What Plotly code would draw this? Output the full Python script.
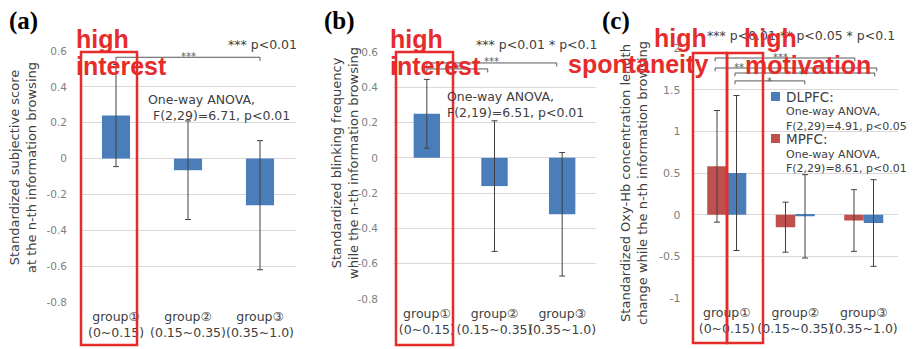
import plotly.graph_objects as go

# page body has an 8px default margin; the figure is sized so that it fills the 918x349 window
OX, OY = 8, 8
W, H = 918 - OX, 349 - OY

# ---------------- data ----------------
groups = ["group①", "group②", "group③"]
group_ranges = ["(0~0.15)", "(0.15~0.35)", "(0.35~1.0)"]

subjective_mean = [0.24, -0.065, -0.26]
subjective_err = [0.285, 0.275, 0.36]

blink_mean = [0.25, -0.16, -0.32]
blink_err = [0.195, 0.37, 0.35]

mpfc_mean = [0.58, -0.15, -0.07]
mpfc_err = [0.67, 0.30, 0.37]
dlpfc_mean = [0.50, -0.02, -0.10]
dlpfc_err = [0.93, 0.50, 0.52]

ab_tickvals = [0.6, 0.4, 0.2, 0, -0.2, -0.4, -0.6, -0.8]
ab_ticktext = ["0.6", "0.4", "0.2", "0", "-0.2", "-0.4", "-0.6", "-0.8"]
c_tickvals = [2, 1.5, 1, 0.5, 0, -0.5, -1]
c_ticktext = ["2", "1.5", "1", "0.5", "0", "-0.5", "-1"]

# ---------------- style ----------------
BLUE = "#4a7ebb"
RED_BAR = "#c0504d"
HL = "#e62b2b"
GRID = "#d9d9d9"
ERR = "#404040"
TXT = "#404040"
TICK = "#7f7f7f"
FONT = "DejaVu Sans, Noto Sans CJK JP"
HLFONT = "Liberation Sans, Arial"
SERIF = "Liberation Serif, Times New Roman"

xticktext = [f"{g}<br>{r}" for g, r in zip(groups, group_ranges)]


def px(x):
    return (x - OX) / W


def py(y):
    return 1 - (y - OY) / H


def err(arr):
    return dict(type="data", array=arr, color=ERR, thickness=1, width=3)


fig = go.Figure()
fig.add_trace(go.Bar(x=groups, y=subjective_mean, error_y=err(subjective_err),
                     marker=dict(color=BLUE, line=dict(width=0)), width=0.39,
                     xaxis="x", yaxis="y", name="subjective score"))
fig.add_trace(go.Bar(x=groups, y=blink_mean, error_y=err(blink_err),
                     marker=dict(color=BLUE, line=dict(width=0)), width=0.39,
                     xaxis="x2", yaxis="y2", name="blinking frequency"))
fig.add_trace(go.Bar(x=groups, y=mpfc_mean, error_y=err(mpfc_err),
                     marker=dict(color=RED_BAR, line=dict(width=0)), width=0.285, offset=-0.285,
                     xaxis="x3", yaxis="y3", name="MPFC"))
fig.add_trace(go.Bar(x=groups, y=dlpfc_mean, error_y=err(dlpfc_err),
                     marker=dict(color=BLUE, line=dict(width=0)), width=0.285, offset=0,
                     xaxis="x3", yaxis="y3", name="DLPFC"))


def xax(d0, d1, anchor):
    return dict(domain=[px(d0), px(d1)], anchor=anchor, type="category",
                categoryorder="array", categoryarray=groups, range=[-0.5, 2.5],
                tickvals=groups, ticktext=xticktext, showgrid=False, zeroline=False,
                showline=False, ticks="", ticklabelstandoff=5, tickangle=0, automargin=False,
                tickfont=dict(family=FONT, size=12.5, color=TXT), fixedrange=True)


def yax(top, bottom, rng, tv, tt, anchor, size, standoff):
    return dict(domain=[py(bottom), py(top)], anchor=anchor, range=rng,
                tickvals=tv, ticktext=tt, showgrid=True, gridcolor=GRID, gridwidth=1,
                zeroline=False, showline=False, ticks="", ticklabelstandoff=standoff,
                automargin=False,
                tickfont=dict(family=FONT, size=size, color=TICK), fixedrange=True)


fig.update_layout(
    template="none",
    width=W, height=H, margin=dict(l=0, r=0, t=0, b=0, pad=0),
    paper_bgcolor="white", plot_bgcolor="white", showlegend=False,
    barmode="overlay",
    xaxis=xax(80, 296, "y"),
    yaxis=yax(51, 302, [-0.8, 0.6], ab_tickvals, ab_ticktext, "x", 10.5, 12),
    xaxis2=xax(393, 596, "y2"),
    yaxis2=yax(52, 299, [-0.8, 0.6], ab_tickvals, ab_ticktext, "x2", 10.5, 14),
    xaxis3=xax(692.5, 898, "y3"),
    yaxis3=yax(48, 298, [-1, 2], c_tickvals, c_ticktext, "x3", 11, 11),
)

shapes = []
annotations = []


def note(text, x, y, size, color=TXT, xanchor="left", family=FONT, weight=None, angle=0, pad=1):
    f = dict(family=family, size=size, color=color)
    if weight:
        f["weight"] = weight
    annotations.append(dict(text=text, x=px(x), y=py(y), xref="paper", yref="paper",
                            xanchor=xanchor, yanchor="middle", showarrow=False, borderpad=pad,
                            font=f, textangle=angle, align="center" if angle else "left"))


def bracket(ax, x0, x1, y, drop):
    xr, yr = ("x" + ax, "y" + ax) if ax else ("x", "y")
    for (a, b, c, d) in [(x0, y, x1, y), (x0, y, x0, y - drop), (x1, y, x1, y - drop)]:
        shapes.append(dict(type="line", xref=xr, yref=yr, x0=a, y0=b, x1=c, y1=d,
                           line=dict(color="#595959", width=1)))


def stars(ax, text, x, y, size=10):
    xr, yr = ("x" + ax, "y" + ax) if ax else ("x", "y")
    annotations.append(dict(text=text, x=x, y=y, xref=xr, yref=yr, showarrow=False,
                            xanchor="center", yanchor="middle", yshift=-3,
                            font=dict(family=FONT, size=size, color="#595959")))


# panel letters
note("<b>(a)</b>", 8, 21, 25, color="black", family=SERIF, pad=0)
note("<b>(b)</b>", 323, 21, 25, color="black", family=SERIF, pad=0)
note("<b>(c)</b>", 601, 21, 25, color="black", family=SERIF, pad=0)

# y-axis titles
note("Standardized subjective score<br>at the n-th information browsing", 23, 168, 13,
     xanchor="center", angle=-90)
note("Standardized blinking frequency<br>while the n-th information browsing", 345, 163, 13,
     xanchor="center", angle=-90)
note("Standardized Oxy-Hb concentration length<br>change while the n-th information browsing",
     634, 183, 13, xanchor="center", angle=-90)

# significance keys
note("*** p<0.01", 299, 44, 12.5, xanchor="right")
note("*** p<0.01 * p<0.1", 599, 44, 12.5, xanchor="right")
note("*** p<0.01 ** p<0.05 * p<0.1", 897, 35, 12.5, xanchor="right")

# ANOVA notes
note("One-way ANOVA,", 146, 99, 12.5)
note("F(2,29)=6.71, p<0.01", 151, 116, 12.5)
note("One-way ANOVA,", 445, 96, 12.5)
note("F(2,19)=6.51, p<0.01", 445, 113, 12.5)

# custom legend for panel (c)
shapes.append(dict(type="rect", xref="paper", yref="paper", x0=px(771), x1=px(780),
                   y0=py(101), y1=py(92), fillcolor=BLUE, line=dict(width=0)))
shapes.append(dict(type="rect", xref="paper", yref="paper", x0=px(771), x1=px(780),
                   y0=py(143), y1=py(134), fillcolor=RED_BAR, line=dict(width=0)))
note("DLPFC:", 784, 97, 13.5)
note("One-way ANOVA,", 784, 112, 11)
note("F(2,29)=4.91, p<0.05", 784, 126, 11)
note("MPFC:", 784, 139, 13.5)
note("One-way ANOVA,", 784, 154, 11)
note("F(2,29)=8.61, p<0.01", 784, 168, 11)

# significance brackets
bracket("", 0, 2, 0.565, 0.02)
stars("", "***", 1, 0.585)
bracket("2", 0, 1.92, 0.538, 0.02)
stars("2", "***", 0.96, 0.565)
bracket("2", 0, 0.9, 0.504, 0.02)
stars("2", "*", 0.45, 0.525)
bracket("3", -0.17, 1.87, 1.88, 0.04)
stars("3", "***", 0.78, 1.92)
bracket("3", -0.17, 2.19, 1.76, 0.04)
stars("3", "**", 0.18, 1.80)
bracket("3", 0.12, 2.16, 1.70, 0.04)
stars("3", "**", 1.13, 1.72)
bracket("3", 0.12, 1.14, 1.605, 0.04)
stars("3", "*", 0.62, 1.63)

# red highlight boxes
for (x0, x1, y0, y1) in [(81, 137, 52, 345), (396, 453, 52, 345),
                         (693, 727, 53, 343), (727, 763, 53, 343)]:
    shapes.append(dict(type="rect", xref="paper", yref="paper", x0=px(x0), x1=px(x1),
                       y0=py(y1), y1=py(y0), line=dict(color=HL, width=2.5),
                       fillcolor="rgba(0,0,0,0)", layer="above"))

# red highlight words
note("high", 74, 39, 25, color=HL, family=HLFONT, weight=700)
note("interest", 74, 66, 25, color=HL, family=HLFONT, weight=700)
note("high", 388, 39, 25, color=HL, family=HLFONT, weight=700)
note("interest", 388, 66, 25, color=HL, family=HLFONT, weight=700)
note("high", 652, 38, 25, color=HL, family=HLFONT, weight=700)
note("spontaneity", 710, 64, 25, color=HL, family=HLFONT, weight=700, xanchor="right")
note("high", 742, 38, 25, color=HL, family=HLFONT, weight=700)
note("motivation", 743, 65, 25, color=HL, family=HLFONT, weight=700)

fig.update_layout(shapes=shapes, annotations=annotations)
fig.write_html("out.html", config={"displayModeBar": False})
